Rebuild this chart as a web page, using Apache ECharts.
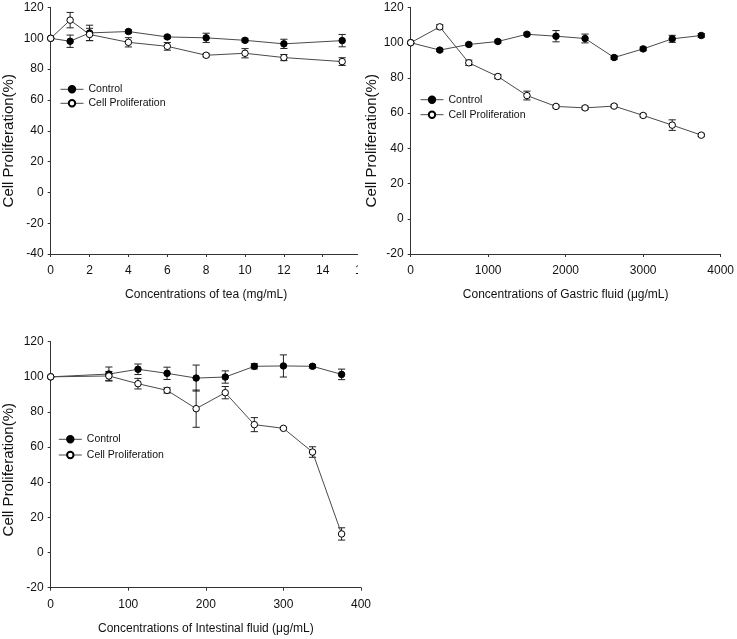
<!DOCTYPE html>
<html>
<head>
<meta charset="utf-8">
<script src="https://cdn.jsdelivr.net/npm/echarts@6/dist/echarts.min.js"></script>
<style>html,body{margin:0;padding:0;background:#fff}#c{width:737px;height:639px}</style>
</head>
<body>
<div id="c"></div>
<script>
// Panel 1: tea
const teaX = [0, 1, 2, 4, 6, 8, 10, 12, 15];
const teaControl = [100, 98.1, 103.5, 104.4, 100.9, 100.3, 98.7, 96.4, 98.5];
const teaControlErr = [0, 4, 5, 1, 1, 3, 1, 3, 4];
const teaCell = [100, 111.8, 102.5, 97.4, 94.8, 89, 90.3, 87.5, 84.9];
const teaCellErr = [0, 5, 4, 3, 2.5, 1, 3, 2, 2.5];
// Panel 2: gastric fluid
const gastricX = [0, 375, 750, 1125, 1500, 1875, 2250, 2625, 3000, 3375, 3750];
const gastricControl = [100, 95.8, 99.0, 100.7, 104.8, 103.7, 102.4, 91.6, 96.5, 102.2, 104.1];
const gastricControlErr = [0, 0.8, 0.8, 0.8, 0.8, 3.2, 2.5, 1, 1, 2, 1];
const gastricCell = [100, 109, 88.6, 80.8, 70.0, 63.8, 63.0, 64.0, 58.7, 53.2, 47.5];
const gastricCellErr = [0, 1.2, 1.5, 1.2, 2.5, 0.8, 1, 0.8, 0.8, 3, 0.8];
// Panel 3: intestinal fluid
const intestinalX = [0, 75, 112.5, 150, 187.5, 225, 262.5, 300, 337.5, 375];
const intestinalControl = [100, 101.6, 104.3, 102, 99.3, 99.9, 106, 106.2, 106, 101.4];
const intestinalControlErr = [0, 4, 3, 3.5, 7.4, 3.5, 1.5, 6.3, 1, 3];
const intestinalCell = [100, 100.5, 96.1, 92.3, 81.9, 91, 72.8, 70.7, 57.2, 10.6];
const intestinalCellErr = [0, 2.5, 3, 1.5, 10.6, 3.5, 4, 0.5, 3, 3.5];

const seriesNames = ['Control', 'Cell Proliferation'];
const xNames = ['Concentrations of tea (mg/mL)', 'Concentrations of Gastric fluid (\u03bcg/mL)', 'Concentrations of Intestinal fluid (\u03bcg/mL)'];
const yName = 'Cell Proliferation(%)';

const FONT = 'Liberation Sans, Arial, sans-serif';
const AX = '#333';

function pairs(xs, ys) { return xs.map((x, i) => [x, ys[i]]); }
function errData(xs, ys, es) {
  const out = [];
  xs.forEach((x, i) => { if (es[i] > 0) out.push([x, ys[i] - es[i], ys[i] + es[i]]); });
  return out;
}
function errSeries(idx, data) {
  return {
    type: 'custom', xAxisIndex: idx, yAxisIndex: idx, z: 1, silent: true,
    encode: { x: 0, y: [1, 2] },
    data: data,
    renderItem: function (params, api) {
      const x = api.value(0);
      const p1 = api.coord([x, api.value(1)]);
      const p2 = api.coord([x, api.value(2)]);
      const w = 3.6;
      const st = { stroke: '#222', lineWidth: 1 };
      return { type: 'group', children: [
        { type: 'line', shape: { x1: p1[0], y1: p1[1], x2: p2[0], y2: p2[1] }, style: st },
        { type: 'line', shape: { x1: p1[0] - w, y1: p1[1], x2: p1[0] + w, y2: p1[1] }, style: st },
        { type: 'line', shape: { x1: p2[0] - w, y1: p2[1], x2: p2[0] + w, y2: p2[1] }, style: st }
      ]};
    }
  };
}
function lineSeries(idx, name, data, filled) {
  return {
    type: 'line', name: name, xAxisIndex: idx, yAxisIndex: idx, z: 3,
    data: data, symbol: 'circle', symbolSize: 6.5, showAllSymbol: true,
    lineStyle: { color: '#4a4a4a', width: 1 },
    itemStyle: { color: filled ? '#000' : '#fff', borderColor: '#000', borderWidth: 1 },
    emphasis: { disabled: true }
  };
}

const grids = [
  { left: 50.7, top: 7.5, width: 310.9, height: 246.5 },
  { left: 410.7, top: 7.5, width: 311, height: 246.5 },
  { left: 50.7, top: 341.7, width: 310.3, height: 246 }
];
const xRanges = [[0, 16, 2], [0, 4000, 1000], [0, 400, 100]];
const yRanges = [[-40, 120, 20], [-20, 120, 20], [-20, 120, 20]];
const yGaps = [34, 29, 34];
const yPad = [20, 20, 10];

const xAxes = xRanges.map((r, i) => ({
  type: 'value', gridIndex: i, min: r[0], max: r[1], interval: r[2],
  name: xNames[i], nameLocation: 'middle', nameGap: 35,
  nameTextStyle: { fontFamily: FONT, fontSize: 12, color: '#111' },
  axisLine: { show: true, onZero: false, lineStyle: { color: AX, width: 1 } },
  axisTick: { show: true, length: 3, inside: false, lineStyle: { color: AX } },
  axisLabel: { fontFamily: FONT, fontSize: 12, color: '#111', margin: 11, formatter: v => String(v) },
  splitLine: { show: false }
}));
const yAxes = yRanges.map((r, i) => ({
  type: 'value', gridIndex: i, min: r[0], max: r[1], interval: r[2],
  name: yName, nameLocation: 'middle', nameGap: yGaps[i], nameRotate: 90,
  nameTextStyle: { fontFamily: FONT, fontSize: 15, color: '#111', padding: [0, yPad[i], 0, 0] },
  axisLine: { show: true, lineStyle: { color: AX, width: 1 } },
  axisTick: { show: true, length: 3, lineStyle: { color: AX } },
  axisLabel: { fontFamily: FONT, fontSize: 12, color: '#111', margin: 7, formatter: v => String(v) },
  splitLine: { show: false }
}));

const legendPos = [
  { left: 60, top: 83.3, gap: 2 },
  { left: 420, top: 93.7, gap: 3 },
  { left: 58.3, top: 433.3, gap: 3.7 }
];
const legends = legendPos.map(p => ({
  data: seriesNames, orient: 'vertical', left: p.left, top: p.top,
  itemWidth: 23, itemHeight: 8, itemGap: p.gap, selectedMode: false, padding: 0,
  lineStyle: { width: 1, color: '#4a4a4a' },
  textStyle: { fontFamily: FONT, fontSize: 10.5, color: '#111', lineHeight: 12 }
}));

const option = {
  animation: false,
  backgroundColor: '#fff',
  grid: grids,
  xAxis: xAxes,
  yAxis: yAxes,
  legend: legends,
  graphic: [{ type: 'rect', z: 100, shape: { x: 358, y: 240, width: 12, height: 50 }, style: { fill: '#fff' } }],
  series: [
    errSeries(0, errData(teaX, teaControl, teaControlErr)),
    errSeries(0, errData(teaX, teaCell, teaCellErr)),
    lineSeries(0, seriesNames[0], pairs(teaX, teaControl), true),
    lineSeries(0, seriesNames[1], pairs(teaX, teaCell), false),
    errSeries(1, errData(gastricX, gastricControl, gastricControlErr)),
    errSeries(1, errData(gastricX, gastricCell, gastricCellErr)),
    lineSeries(1, seriesNames[0], pairs(gastricX, gastricControl), true),
    lineSeries(1, seriesNames[1], pairs(gastricX, gastricCell), false),
    errSeries(2, errData(intestinalX, intestinalControl, intestinalControlErr)),
    errSeries(2, errData(intestinalX, intestinalCell, intestinalCellErr)),
    lineSeries(2, seriesNames[0], pairs(intestinalX, intestinalControl), true),
    lineSeries(2, seriesNames[1], pairs(intestinalX, intestinalCell), false)
  ]
};
const chart = echarts.init(document.getElementById('c'), null, { renderer: 'canvas' });
chart.setOption(option);
</script>
</body>
</html>
